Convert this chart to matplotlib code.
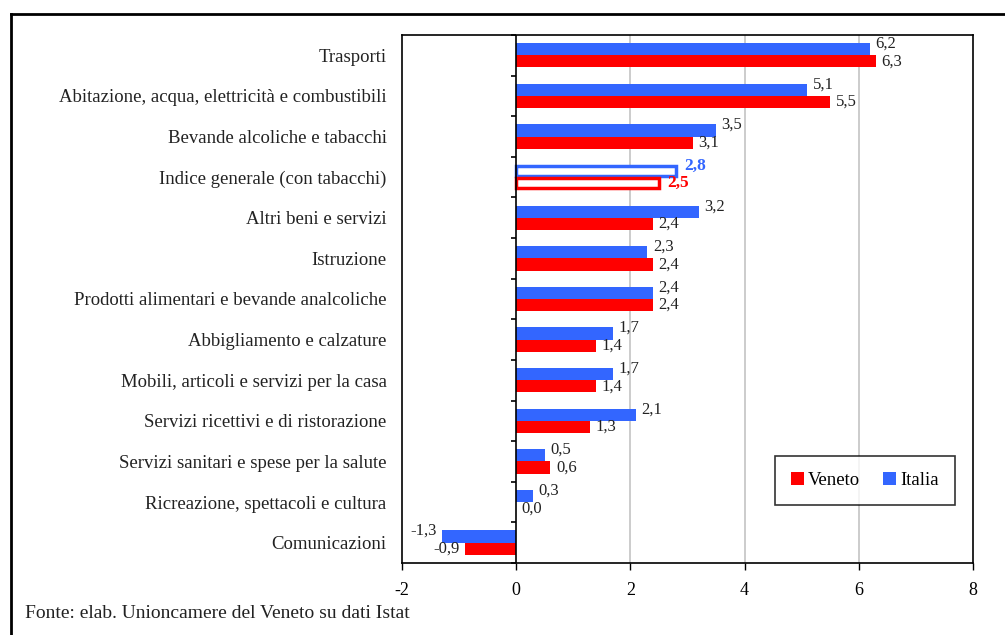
import matplotlib
matplotlib.use("Agg")
import matplotlib.pyplot as plt
from matplotlib.patches import Patch
from matplotlib.lines import Line2D
import numpy as np

plt.rcParams['font.family'] = ['Liberation Serif', 'DejaVu Serif']

categories = [
    "Trasporti",
    "Abitazione, acqua, elettricità e combustibili",
    "Bevande alcoliche e tabacchi",
    "Indice generale (con tabacchi)",
    "Altri beni e servizi",
    "Istruzione",
    "Prodotti alimentari e bevande analcoliche",
    "Abbigliamento e calzature",
    "Mobili, articoli e servizi per la casa",
    "Servizi ricettivi e di ristorazione",
    "Servizi sanitari e spese per la salute",
    "Ricreazione, spettacoli e cultura",
    "Comunicazioni",
]
italia = [6.2, 5.1, 3.5, 2.8, 3.2, 2.3, 2.4, 1.7, 1.7, 2.1, 0.5, 0.3, -1.3]
veneto = [6.3, 5.5, 3.1, 2.5, 2.4, 2.4, 2.4, 1.4, 1.4, 1.3, 0.6, 0.0, -0.9]
highlight = "Indice generale (con tabacchi)"
xticks = [-2, 0, 2, 4, 6, 8]

BLUE = "#3366FF"
RED = "#FF0000"

fig = plt.figure(figsize=(10.05, 6.35), dpi=100)
ax = fig.add_axes([0.4, 0.1134, 0.568, 0.8315])

y = np.arange(len(categories))
h = 0.3
for i, cat in enumerate(categories):
    hl = cat == highlight
    if hl:
        ax.barh(y[i] - h / 2, italia[i], height=h * 0.85, facecolor="white",
                edgecolor=BLUE, linewidth=2.5, zorder=3)
        ax.barh(y[i] + h / 2, veneto[i], height=h * 0.85, facecolor="white",
                edgecolor=RED, linewidth=2.5, zorder=3)
    else:
        ax.barh(y[i] - h / 2, italia[i], height=h, color=BLUE, zorder=3)
        ax.barh(y[i] + h / 2, veneto[i], height=h, color=RED, zorder=3)

    def lab(v):
        return f"{v:.1f}".replace(".", ",")

    for val, yy, col in ((italia[i], y[i] - h * 0.95, BLUE), (veneto[i], y[i] + h / 2, RED)):
        off = 4 if val >= 0 else -4
        if hl:
            off = 6
        ha = "left" if val >= 0 else "right"
        ax.annotate(lab(val), (val, yy), xytext=(off, 0), textcoords="offset points",
                    ha=ha, va="center", fontsize=(12.5 if hl else 12),
                    color=(col if hl else "#222222"),
                    fontweight=("bold" if hl else "normal"), zorder=4)

ax.set_xlim(-2, 8)
ax.set_ylim(len(categories) - 0.5, -0.5)
ax.set_xticks(xticks)
ax.set_xticklabels([str(t) for t in xticks], fontsize=13)
ax.tick_params(axis="x", direction="out", length=5, width=1, pad=9)
ax.set_yticks(y)
ax.set_yticklabels(categories, fontsize=13.5, color="#222222")
ax.tick_params(axis="y", length=0, pad=11)

for g in [2, 4, 6]:
    ax.axvline(g, color="#C8C8C8", linewidth=1.3, zorder=1)
ax.axvline(0, color="black", linewidth=1.2, zorder=5)
# small ticks on zero axis at category boundaries
bounds = np.arange(len(categories) + 1) - 0.5
ax.hlines(bounds, -0.09, 0, color="black", linewidth=1.2, zorder=5, clip_on=False)

for s in ax.spines.values():
    s.set_linewidth(1.2)
    s.set_color("black")

handles = [Patch(facecolor=RED, edgecolor="none", label="Veneto"),
           Patch(facecolor=BLUE, edgecolor="none", label="Italia")]
leg = ax.legend(handles=handles, ncol=2, loc="lower left",
                bbox_to_anchor=(0.653, 0.11, 0.315, 0.085), mode="expand",
                fontsize=13.5, frameon=True, fancybox=False, handlelength=0.7,
                handleheight=0.7, handletextpad=0.2, columnspacing=1.5,
                borderpad=0.85, borderaxespad=0)
leg.get_frame().set_edgecolor("black")
leg.get_frame().set_linewidth(1.2)
leg.set_zorder(10)

fig.text(25 / 1005, 1 - 613 / 635, "Fonte: elab. Unioncamere del Veneto su dati Istat",
         fontsize=14, va="center", ha="left", color="#222222")

# outer frame lines (top and left)
fig.add_artist(Line2D([11 / 1005, 1.0], [1 - 14 / 635, 1 - 14 / 635], color="black",
                      linewidth=2, transform=fig.transFigure))
fig.add_artist(Line2D([11 / 1005, 11 / 1005], [0, 1 - 14 / 635], color="black",
                      linewidth=2, transform=fig.transFigure))

fig.savefig("out.png", dpi=100)
